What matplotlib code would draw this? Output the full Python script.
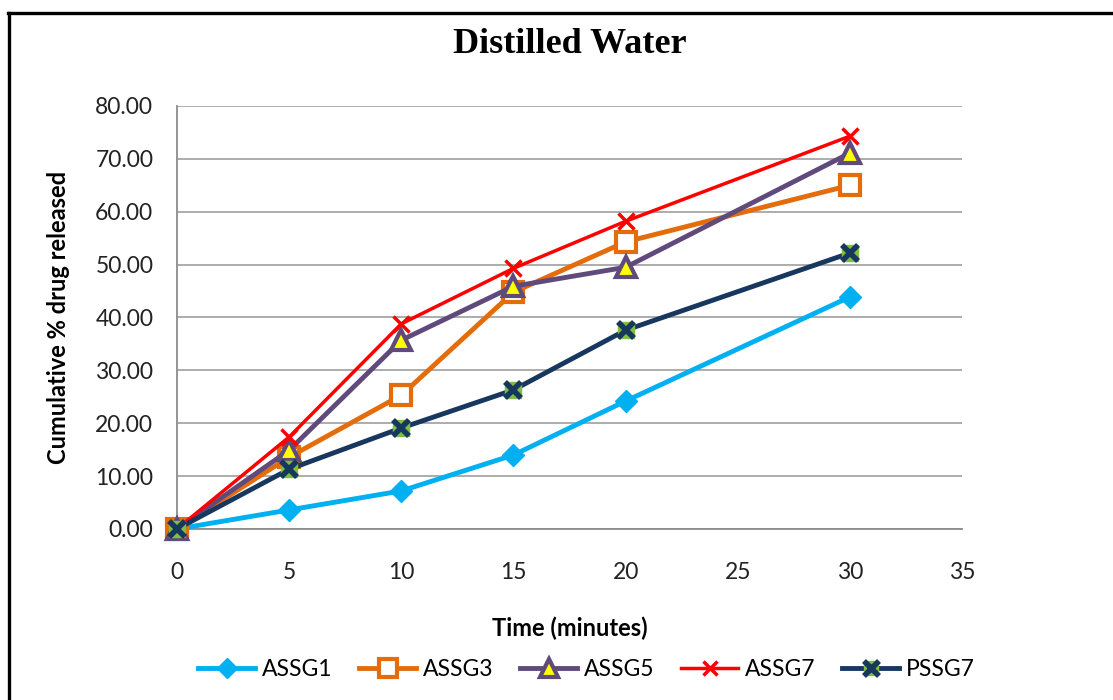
import matplotlib
matplotlib.use("Agg")
import matplotlib.pyplot as plt
from matplotlib.lines import Line2D
from matplotlib.legend_handler import HandlerTuple

# Dissolution profile in distilled water
time_min = [0, 5, 10, 15, 20, 30]
assg1 = [0.0, 3.6, 7.2, 14.0, 24.2, 43.9]
assg3 = [0.0, 13.6, 25.3, 44.8, 54.3, 65.0]
assg5 = [0.0, 14.9, 35.7, 45.9, 49.5, 71.1]
assg7 = [0.0, 17.4, 38.8, 49.3, 58.2, 74.3]
pssg7 = [0.0, 11.3, 19.1, 26.3, 37.6, 52.2]

x_ticks = [0, 5, 10, 15, 20, 25, 30, 35]
y_ticks = [0, 10, 20, 30, 40, 50, 60, 70, 80]

plt.rcParams['font.family'] = ['Lato', 'DejaVu Sans']

fig = plt.figure(figsize=(11.13, 7.00), dpi=100)
ax = fig.add_axes([0.159, 0.2443, 0.7055, 0.6043])

common = dict(clip_on=False)
h1, = ax.plot(time_min, assg1, color='#00B0F0', lw=3.5, marker='D', ms=11,
              mfc='#00B0F0', mec='#00B0F0', zorder=3, **common)
h3, = ax.plot(time_min, assg3, color='#E46C0A', lw=3.5, marker='s', ms=15,
              mfc='white', mec='#E46C0A', mew=3, zorder=4, **common)
h5, = ax.plot(time_min, assg5, color='#604A7B', lw=3.5, marker='^', ms=15,
              mfc='#FFFF00', mec='#604A7B', mew=3, zorder=5, **common)
h7, = ax.plot(time_min, assg7, color='#FF0000', lw=2.5, marker='x', ms=11,
              mec='#FF0000', mew=2.5, zorder=6, **common)
h9, = ax.plot(time_min, pssg7, color='#17375E', lw=3.5, marker='s', ms=11,
              mfc='#7FBF3F', mec='#7FBF3F', zorder=6.5, **common)
h9b, = ax.plot(time_min, pssg7, color='none', lw=0, marker='x', ms=12,
               mec='#17375E', mew=4, zorder=6.6, **common)

ax.set_xlim(0, 35)
ax.set_ylim(0, 80)
ax.set_xticks(x_ticks)
ax.set_yticks(y_ticks)
ax.set_yticklabels([f"{v:.2f}" for v in y_ticks])
ax.tick_params(axis='both', length=0, labelsize=16.5)
ax.tick_params(axis='y', pad=17)
ax.tick_params(axis='x', pad=24)
for lbl in ax.get_xticklabels() + ax.get_yticklabels():
    lbl.set_color('#222222')

ax.grid(axis='y', color='#A6A6A6', lw=1.3)
ax.set_axisbelow(True)
for side in ('top', 'right'):
    ax.spines[side].set_visible(False)
for side in ('left', 'bottom'):
    ax.spines[side].set_color('#8C8C8C')
    ax.spines[side].set_linewidth(1.3)
ax.spines['bottom'].set_zorder(2)

ax.set_xlabel('Time (minutes)', fontsize=17, fontweight='bold', labelpad=24)
ax.set_ylabel('Cumulative % drug released', fontsize=17, fontweight='bold', labelpad=18)

fig.text(0.512, 0.937, 'Distilled Water', ha='center', va='center',
         fontsize=26, fontweight='bold', family='Liberation Serif')

fig.legend([h1, h3, h5, h7, (h9, h9b)], ['ASSG1', 'ASSG3', 'ASSG5', 'ASSG7', 'PSSG7'],
           handler_map={tuple: HandlerTuple(ndivide=1, pad=0)},
           loc='center', bbox_to_anchor=(0.527, 0.043), ncol=5, frameon=False,
           fontsize=16.5, handlelength=2.5, columnspacing=1.15, handletextpad=0.3,
           markerscale=0.9)

# Outer border (extends past the right and bottom edges)
fig.add_artist(Line2D([8.5 / 1113, 8.5 / 1113], [1 - 12.5 / 700, -0.05],
                      transform=fig.transFigure, color='black', lw=2.4))
fig.add_artist(Line2D([7.5 / 1113, 1.05], [1 - 12.5 / 700, 1 - 12.5 / 700],
                      transform=fig.transFigure, color='black', lw=2.4))

fig.savefig('out.png', dpi=100)
